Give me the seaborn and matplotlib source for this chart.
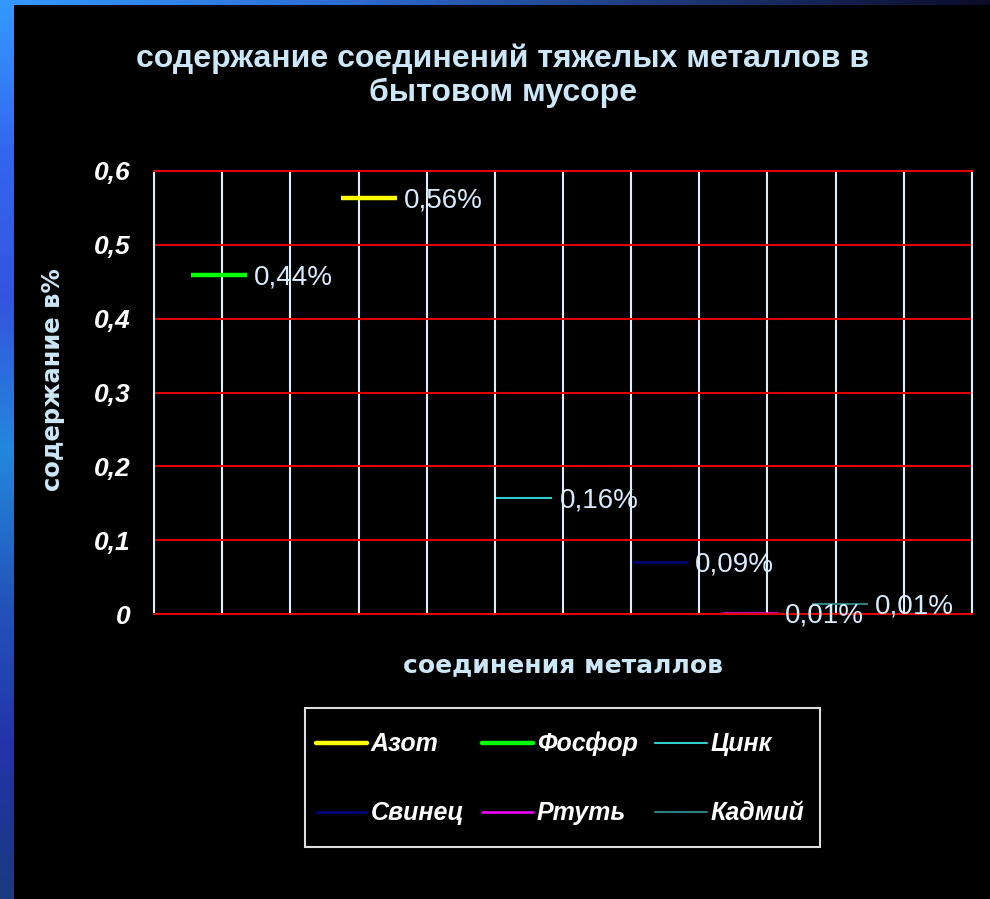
import numpy as np
import pandas as pd
import matplotlib
matplotlib.use("Agg")
import matplotlib.pyplot as plt
import seaborn as sns
from matplotlib.colors import LinearSegmentedColormap
from matplotlib.lines import Line2D
from matplotlib.patches import Rectangle

# данные графика
металлы = ["Азот", "Фосфор", "Цинк", "Свинец", "Ртуть", "Кадмий"]
позиция = [3.15, 0.95, 5.43, 7.42, 8.74, 10.06]
содержание = [0.563, 0.459, 0.157, 0.070, 0.001, 0.0135]
подписи = ["0,56%", "0,44%", "0,16%", "0,09%", "0,01%", "0,01%"]
деления_y = [0, 0.1, 0.2, 0.3, 0.4, 0.5, 0.6]
подписи_y = ["0", "0,1", "0,2", "0,3", "0,4", "0,5", "0,6"]

цвета = ["#FFFF00", "#00FF00", "#33CCCC", "#000080", "#FF00FF", "#2F7F7F"]
толщина = [3.2, 3.2, 1.5, 1.8, 1.8, 1.5]

df = pd.DataFrame({"металл": металлы, "позиция": позиция, "содержание": содержание})

sns.set_theme(style="dark")
plt.rcParams["font.family"] = ["Liberation Sans", "DejaVu Sans"]

fig = plt.figure(figsize=(9.9, 8.99), dpi=100, facecolor="black")

# синие полосы по краям слайда
лев = fig.add_axes([0, 0, 14/990, 1])
cmap_l = LinearSegmentedColormap.from_list("l", ["#3399FF", "#3366EE", "#3355DD", "#2288DD",
                                                 "#2255BB", "#2233AA", "#1A3A80"])
лев.imshow(np.linspace(0, 1, 200).reshape(-1, 1), aspect="auto", cmap=cmap_l)
лев.axis("off")
верх = fig.add_axes([0, 1-5/899, 1, 5/899])
cmap_t = LinearSegmentedColormap.from_list("t", ["#3399FF", "#2E6FD6", "#1E3A7A", "#0C0C2A"])
верх.imshow(np.linspace(0, 1, 200).reshape(1, -1), aspect="auto", cmap=cmap_t)
верх.axis("off")

ax = fig.add_axes([154/990, 1-614/899, 818/990, 443/899])
ax.set_facecolor("black")

for i, m in enumerate(металлы):
    sns.lineplot(data=df[df["металл"] == m], x="позиция", y="содержание", ax=ax,
                 color=цвета[i], marker="_", markersize=41,
                 markeredgecolor=цвета[i], markeredgewidth=толщина[i], legend=False)
    ax.annotate(подписи[i], (позиция[i], содержание[i]), xytext=(25.5, -1.5),
                textcoords="offset points", ha="left", va="center",
                color="#D8ECFF", fontsize=20)

ax.set_xlim(0, 12)
ax.set_ylim(0, 0.6)
ax.set_xticks(range(13))
ax.set_xticklabels([])
ax.set_yticks(деления_y)
ax.set_yticklabels(подписи_y, fontweight="bold", fontstyle="italic", color="white", fontsize=19)
ax.tick_params(length=0, pad=17)

ax.set_axisbelow(True)
ax.grid(axis="y", color="#E00000", lw=1.5)
ax.grid(axis="x", color="#DDEEFF", lw=1.5)
for s in ["left", "right"]:
    ax.spines[s].set_color("#DDEEFF")
    ax.spines[s].set_linewidth(1.5)
for s in ["top", "bottom"]:
    ax.spines[s].set_color("#E00000")
    ax.spines[s].set_linewidth(1.5)

ax.set_ylabel("содержание в%", color="#CCE8F8", fontsize=17.5, fontweight="bold",
              va="center", family="DejaVu Sans")
ax.yaxis.set_label_coords(-0.124, 0.528)
ax.set_xlabel("соединения металлов", color="#CCE8F8", fontsize=18, fontweight="bold",
              va="center", family="DejaVu Sans")
ax.xaxis.set_label_coords(0.5, -0.115)

fig.suptitle("содержание соединений тяжелых металлов в\nбытовом мусоре",
             x=503/990, y=1-76/899, va="center", color="#CCE8F8",
             fontsize=23, fontweight="bold", linespacing=1.15)

# легенда: 3 колонки, порядок по строкам
ручки = [Line2D([], [], color=цвета[i], lw=толщина[i]) for i in range(len(металлы))]
порядок = [0, 3, 1, 4, 2, 5]
leg = fig.legend([ручки[i] for i in порядок], [металлы[i] for i in порядок],
                 loc="center", bbox_to_anchor=(560/990, 1-778.5/899), ncol=3,
                 frameon=False,
                 prop=dict(family="Liberation Sans", weight="bold", style="italic", size=18),
                 labelcolor="white", handlelength=2.05, handletextpad=0.15,
                 columnspacing=0.7, labelspacing=1.8, borderpad=0)
# рамка легенды
fig.patches.append(Rectangle((305/990, 1-847/899), 515/990, 139/899, transform=fig.transFigure,
                             fill=False, edgecolor="#DDDDDD", linewidth=1.5))

fig.savefig("out.png", dpi=100, facecolor="black")
